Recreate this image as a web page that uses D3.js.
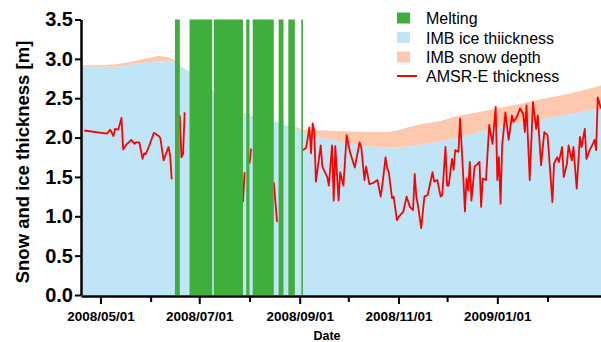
<!DOCTYPE html>
<html>
<head>
<meta charset="utf-8">
<script src="https://cdn.jsdelivr.net/npm/d3@7"></script>
<style>
  html, body { margin: 0; padding: 0; background: #fff; }
  svg { display: block; font-family: "Liberation Sans", Arial, sans-serif; }
</style>
</head>
<body>
<svg id="chart" width="601" height="342"></svg>
<script>
// Melting days (start inclusive, end exclusive)
const meltStart = ["2008-06-16", "2008-06-25", "2008-07-10", "2008-07-30", "2008-08-03", "2008-08-19", "2008-08-25", "2008-09-02"];
const meltEnd   = ["2008-06-19", "2008-07-09", "2008-07-28", "2008-08-01", "2008-08-16", "2008-08-22", "2008-08-29", "2008-09-03"];

// IMB buoy ice thickness and snow depth (m)
const imbDates = ["2008-04-19","2008-05-01","2008-05-11","2008-05-21","2008-05-31","2008-06-06","2008-06-12","2008-06-16",
  "2008-06-20","2008-06-24","2008-07-09","2008-07-28","2008-08-02","2008-08-17","2008-08-23","2008-08-30","2008-09-03",
  "2008-09-16","2008-09-28","2008-10-13","2008-10-26","2008-11-02","2008-11-07","2008-11-15","2008-11-27","2008-12-07",
  "2008-12-17","2008-12-27","2009-01-06","2009-01-16","2009-01-26","2009-02-05","2009-02-15","2009-02-25","2009-03-06"];
const imbIce = [2.90,2.90,2.90,2.93,2.96,2.97,2.97,2.96,2.90,2.85,2.60,2.32,2.28,2.20,2.16,2.12,2.06,
  1.99,1.94,1.89,1.87,1.88,1.89,1.91,1.95,2.00,2.05,2.12,2.15,2.19,2.23,2.26,2.30,2.34,2.37];
const imbSnow = [0.02,0.02,0.03,0.04,0.05,0.07,0.05,0.02,0.00,0.00,0.00,0.00,0.00,0.00,0.00,0.01,0.04,
  0.10,0.14,0.18,0.20,0.22,0.24,0.26,0.26,0.27,0.26,0.23,0.24,0.24,0.25,0.26,0.26,0.27,0.29];

// AMSR-E derived thickness (m); null marks missing data
const amsrDates = [
  "2008-04-21","2008-05-05","2008-05-07","2008-05-09","2008-05-10","2008-05-12","2008-05-14","2008-05-15","2008-05-17",
  "2008-05-20","2008-05-22","2008-05-23","2008-05-25","2008-05-27","2008-05-28","2008-05-29","2008-05-31","2008-06-03",
  "2008-06-06","2008-06-07","2008-06-09","2008-06-12","2008-06-13","2008-06-14","2008-06-16",
  "2008-06-19","2008-06-20","2008-06-21","2008-06-22","2008-06-23",
  "2008-07-28","2008-07-29","2008-07-30",
  "2008-08-01","2008-08-02","2008-08-03",
  "2008-08-16","2008-08-18","2008-08-19",
  "2008-09-03","2008-09-05","2008-09-07","2008-09-08","2008-09-09","2008-09-10","2008-09-11","2008-09-14","2008-09-15",
  "2008-09-18","2008-09-19","2008-09-21","2008-09-22","2008-09-23","2008-09-25","2008-09-26","2008-09-28","2008-09-30",
  "2008-10-02","2008-10-05","2008-10-08","2008-10-09","2008-10-11","2008-10-12","2008-10-14","2008-10-16","2008-10-19",
  "2008-10-21","2008-10-22","2008-10-24","2008-10-25","2008-10-26","2008-10-28","2008-10-29","2008-10-31","2008-11-01",
  "2008-11-04","2008-11-06","2008-11-08","2008-11-10","2008-11-11","2008-11-12","2008-11-13","2008-11-15","2008-11-17",
  "2008-11-19","2008-11-22","2008-11-23","2008-11-25","2008-11-27","2008-11-28","2008-11-30","2008-12-01","2008-12-02",
  "2008-12-04","2008-12-05","2008-12-06","2008-12-08","2008-12-09","2008-12-11","2008-12-12","2008-12-13","2008-12-14",
  "2008-12-15","2008-12-16","2008-12-18","2008-12-20","2008-12-21","2008-12-22","2008-12-23","2008-12-25","2008-12-27",
  "2008-12-29","2008-12-31","2009-01-01","2009-01-02","2009-01-03","2009-01-04","2009-01-06","2009-01-08","2009-01-10",
  "2009-01-11","2009-01-13","2009-01-15","2009-01-17","2009-01-18","2009-01-19","2009-01-21","2009-01-23","2009-01-25",
  "2009-01-26","2009-01-28","2009-01-30","2009-02-01","2009-02-04","2009-02-05","2009-02-07","2009-02-08","2009-02-10",
  "2009-02-11","2009-02-13","2009-02-14","2009-02-16","2009-02-17","2009-02-19","2009-02-21","2009-02-22","2009-02-24",
  "2009-02-25","2009-02-27","2009-03-01","2009-03-02","2009-03-03","2009-03-04","2009-03-06"];
const amsrThickness = [
  2.09,2.05,2.10,2.02,2.11,2.10,2.25,1.85,1.91,
  1.97,1.92,1.94,1.94,1.73,1.80,1.79,1.89,2.06,
  2.02,1.99,1.71,1.88,1.78,1.47,null,
  2.28,1.75,1.79,2.32,null,
  1.18,1.56,null,
  1.67,1.86,null,
  1.43,0.93,null,
  1.84,1.87,2.13,1.80,2.18,2.09,1.44,1.90,1.63,
  1.50,1.39,1.90,1.20,1.89,1.20,1.56,1.39,2.03,
  1.82,1.62,1.94,1.88,1.46,1.63,1.41,1.42,1.46,
  1.25,1.39,1.75,1.61,1.56,1.23,1.25,0.95,0.99,
  1.06,1.25,1.12,1.08,1.54,1.25,1.14,0.85,1.25,
  1.27,1.56,1.44,1.46,1.25,1.27,1.88,1.39,1.39,
  1.73,1.59,1.84,1.82,2.24,1.50,1.06,1.48,1.33,
  1.69,1.20,1.63,1.67,1.69,1.12,1.48,1.46,2.16,
  1.92,2.39,1.46,1.75,1.16,1.90,2.32,1.97,2.28,
  2.20,2.26,2.37,2.30,2.07,2.41,1.46,2.45,2.11,
  2.28,1.65,2.07,2.03,1.18,1.67,1.75,1.69,1.88,
  1.50,1.67,1.90,1.71,1.88,1.35,2.01,1.88,2.11,
  1.73,1.84,1.92,1.97,1.84,2.51,2.37];

// Axis ticks
const xTickDates = ["2008-05-01","2008-06-01","2008-07-01","2008-08-01","2008-09-01","2008-10-01",
  "2008-11-01","2008-12-01","2009-01-01","2009-02-01"];
const yTickValues = [0, 0.5, 1.0, 1.5, 2.0, 2.5, 3.0, 3.5];
const xDomain = ["2008-04-19", "2009-03-06"];

const legendLabels = ["Melting", "IMB ice thiickness", "IMB snow depth", "AMSR-E thickness"];

const colors = {
  melt: "#40ae3c",
  ice: "#c0e5f7",
  snow: "#fcc8ae",
  amsr: "#ff0000"
};

const parse = d3.timeParse("%Y-%m-%d");
const fmt = d3.timeFormat("%Y/%m/%d");

const svg = d3.select("#chart");
const plotLeft = 81, plotRight = 601, plotTop = 19.5, plotBottom = 295;

const x = d3.scaleTime().domain(xDomain.map(parse)).range([plotLeft, plotRight]);
const y = d3.scaleLinear().domain([0, 3.5]).range([plotBottom, plotTop]);

svg.append("defs").append("clipPath").attr("id", "plot-clip")
  .append("rect").attr("x", plotLeft).attr("y", plotTop - 1)
  .attr("width", plotRight - plotLeft).attr("height", plotBottom - plotTop + 1);

const plot = svg.append("g").attr("clip-path", "url(#plot-clip)");

const imb = imbDates.map((d, i) => ({ date: parse(d), ice: imbIce[i], snow: imbSnow[i] }));

plot.append("path").datum(imb)
  .attr("fill", colors.ice)
  .attr("d", d3.area().x(d => x(d.date)).y0(y(0)).y1(d => y(d.ice)));

plot.append("path").datum(imb)
  .attr("fill", colors.snow)
  .attr("d", d3.area().x(d => x(d.date)).y0(d => y(d.ice)).y1(d => y(d.ice + d.snow)));

const amsr = amsrDates.map((d, i) => ({ date: parse(d), v: amsrThickness[i] }));
plot.append("path").datum(amsr)
  .attr("fill", "none")
  .attr("stroke", colors.amsr)
  .attr("stroke-width", 1.8)
  .attr("stroke-linejoin", "round")
  .attr("d", d3.line().defined(d => d.v != null).x(d => x(d.date)).y(d => y(d.v)));

// Melting periods drawn over the series
const melt = meltStart.map((s, i) => ({ s: parse(s), e: parse(meltEnd[i]) }));
plot.selectAll("rect.melt").data(melt).join("rect")
  .attr("class", "melt")
  .attr("x", d => x(d.s))
  .attr("width", d => x(d.e) - x(d.s))
  .attr("y", y(3.5))
  .attr("height", y(0) - y(3.5))
  .attr("fill", colors.melt);

// X axis
const xTicks = xTickDates.map(parse);
const xAxis = svg.append("g").attr("transform", `translate(0,${plotBottom + 1})`)
  .call(d3.axisBottom(x).tickValues(xTicks).tickSize(8).tickSizeOuter(0).tickPadding(7)
    .tickFormat((d, i) => i % 2 === 0 ? fmt(d) : ""));
xAxis.select(".domain").attr("stroke", "#000").attr("stroke-width", 2.5);
xAxis.selectAll(".tick line").attr("stroke", "#000").attr("stroke-width", 2)
  .attr("y2", (d, i) => i % 2 === 0 ? 8 : 6);
xAxis.selectAll(".tick text").attr("font-size", 13.5).attr("font-weight", "bold").attr("fill", "#000");

// Y axis
const yAxis = svg.append("g").attr("transform", `translate(${plotLeft},0)`)
  .call(d3.axisLeft(y).tickValues(yTickValues).tickSize(6).tickSizeOuter(0).tickPadding(2)
    .tickFormat(d3.format(".1f")));
yAxis.select(".domain").attr("stroke", "#000").attr("stroke-width", 2.5);
yAxis.selectAll(".tick line").attr("stroke", "#000").attr("stroke-width", 2);
yAxis.selectAll(".tick text").attr("font-size", 20).attr("font-weight", "bold").attr("fill", "#000");

// Axis titles
svg.append("text")
  .attr("x", 327).attr("y", 340)
  .attr("text-anchor", "middle")
  .attr("font-size", 12.5).attr("font-weight", "bold")
  .text("Date");

svg.append("text")
  .attr("transform", "translate(29,162) rotate(-90)")
  .attr("text-anchor", "middle")
  .attr("font-size", 18.5).attr("font-weight", "bold")
  .text("Snow and ice thickness [m]");

// Legend
const legend = svg.append("g");
const rowY = [18, 37.5, 57, 76];
legend.append("rect").attr("x", 397).attr("y", rowY[0] - 5.5).attr("width", 13).attr("height", 11).attr("fill", colors.melt);
legend.append("rect").attr("x", 397).attr("y", rowY[1] - 5.5).attr("width", 13).attr("height", 11).attr("fill", colors.ice);
legend.append("rect").attr("x", 397).attr("y", rowY[2] - 5.5).attr("width", 13).attr("height", 11).attr("fill", colors.snow);
legend.append("line").attr("x1", 397).attr("x2", 417).attr("y1", rowY[3]).attr("y2", rowY[3])
  .attr("stroke", colors.amsr).attr("stroke-width", 2);
legend.selectAll("text").data(legendLabels).join("text")
  .attr("x", 426)
  .attr("y", (d, i) => rowY[i] + 6)
  .attr("font-size", 16)
  .attr("fill", "#000")
  .text(d => d);
</script>
</body>
</html>
